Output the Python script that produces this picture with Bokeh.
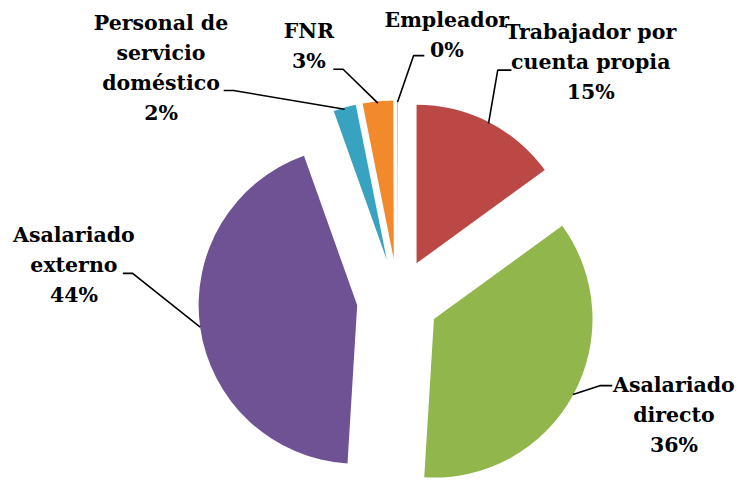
import numpy as np
from bokeh.plotting import figure
from bokeh.models import Range1d, ColumnDataSource
from bokeh.core.properties import value
from bokeh.embed import file_html
from bokeh.resources import INLINE

# ---- data ----
categories = ["Trabajador por cuenta propia", "Asalariado directo", "Asalariado externo",
              "Personal de servicio doméstico", "FNR", "Empleador"]
label_lines = [["Trabajador por", "cuenta propia"], ["Asalariado", "directo"], ["Asalariado", "externo"],
               ["Personal de", "servicio", "doméstico"], ["FNR"], ["Empleador"]]
values = [15.0, 36.0, 43.6, 2.3, 3.1, 0.05]
colors = ["#BC4845", "#91B64C", "#6E5293", "#38A3C0", "#F2892A", "#4F81BD"]

# ---- layout (reference-image px; the plot maps 755x494 onto its frame) ----
W, H = 739, 478
CX, CY = 406, 309
R = 162
EXPLODE = 42
FONT = "DejaVu Serif"
FS = "20.5px"
LINE_H = 31
label_pos = [(603, 33), (688, 397), (75, 242), (164, 23), (315, 32), (456, 20)]
elbows = [((522, 72), (508, 72)), ((625, 398), (613, 398)), ((125, 282), (135, 282)),
          ((228, 93), (238, 93)), ((340, 71), (350, 71)), ((433, 57), (422, 57))]


def Y(sy):
    return 494 - sy


p = figure(width=W, height=H, x_range=Range1d(0, 755), y_range=Range1d(0, 494),
           min_border=0, toolbar_location=None, output_backend="svg")
p.axis.visible = False
p.grid.visible = False
p.outline_line_color = None
p.background_fill_color = "white"
p.border_fill_color = "white"

total = float(sum(values))
cum = np.cumsum([0.0] + list(values)) / total * 360.0
a1 = cum[:-1]
a2 = cum[1:]
mid = (a1 + a2) / 2.0
mid_rad = np.radians(mid)
xs = CX + EXPLODE * np.sin(mid_rad)
ys = Y(CY) + EXPLODE * np.cos(mid_rad)
start = np.radians(90 - a2)
end = np.radians(90 - a1)

src = ColumnDataSource(dict(x=xs, y=ys, start=start, end=end, color=colors, cat=categories))
p.wedge(x="x", y="y", radius=R, start_angle="start", end_angle="end", fill_color="color",
        line_color=None, source=src)

for i in range(len(categories)):
    px = xs[i] + R * np.sin(mid_rad[i])
    py = ys[i] + R * np.cos(mid_rad[i])
    (ex0, ey0), (ex1, ey1) = elbows[i]
    p.line([ex0, ex1, px], [Y(ey0), Y(ey1), py], line_color="black", line_width=1.6)
    pct = f"{round(values[i] / total * 100):.0f}%"
    lines = label_lines[i] + [pct]
    lx, ly = label_pos[i]
    p.text(x=[lx] * len(lines), y=[Y(ly + k * LINE_H) for k in range(len(lines))], text=lines,
           text_font=value(FONT), text_font_style="bold", text_font_size=FS,
           text_align="center", text_baseline="middle", text_color="black")

open("out.html", "w").write(file_html(p, INLINE))
